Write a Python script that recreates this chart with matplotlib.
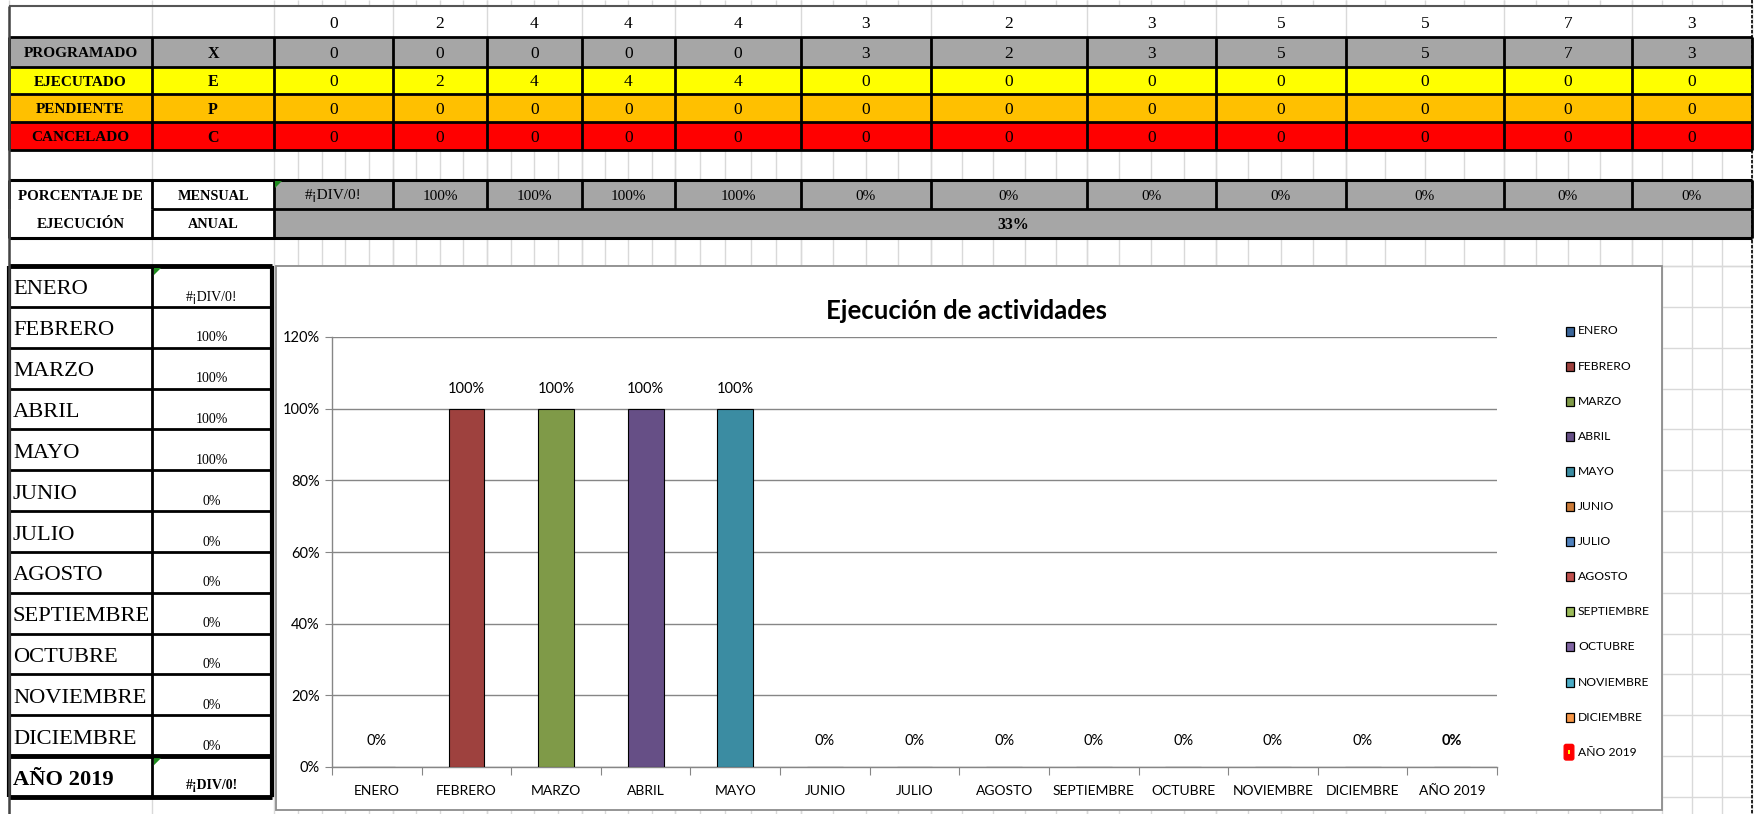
import numpy as np
import matplotlib
matplotlib.use('Agg')
import matplotlib.pyplot as plt
from matplotlib.patches import Rectangle, Polygon, FancyBboxPatch
from matplotlib import font_manager as fm

# ---------------- data ----------------
month_names = ['ENERO', 'FEBRERO', 'MARZO', 'ABRIL', 'MAYO', 'JUNIO', 'JULIO',
               'AGOSTO', 'SEPTIEMBRE', 'OCTUBRE', 'NOVIEMBRE', 'DICIEMBRE']
header_counts = [0, 2, 4, 4, 4, 3, 2, 3, 5, 5, 7, 3]
status_names = ['PROGRAMADO', 'EJECUTADO', 'PENDIENTE', 'CANCELADO']
status_codes = ['X', 'E', 'P', 'C']
programado = [0, 0, 0, 0, 0, 3, 2, 3, 5, 5, 7, 3]
ejecutado = [0, 2, 4, 4, 4, 0, 0, 0, 0, 0, 0, 0]
pendiente = [0, 0, 0, 0, 0, 0, 0, 0, 0, 0, 0, 0]
cancelado = [0, 0, 0, 0, 0, 0, 0, 0, 0, 0, 0, 0]
mensual_text = ['#¡DIV/0!', '100%', '100%', '100%', '100%', '0%', '0%', '0%',
                '0%', '0%', '0%', '0%']
anual_text = '33%'
summary_names = month_names + ['AÑO 2019']
summary_text = ['#¡DIV/0!', '100%', '100%', '100%', '100%', '0%', '0%', '0%',
                '0%', '0%', '0%', '0%', '#¡DIV/0!']
chart_title = 'Ejecución de actividades'
chart_categories = month_names + ['AÑO 2019']
chart_values = [0, 100, 100, 100, 100, 0, 0, 0, 0, 0, 0, 0, 0]
chart_value_labels = ['0%', '100%', '100%', '100%', '100%', '0%', '0%', '0%',
                      '0%', '0%', '0%', '0%', '0%']
y_ticks = [0, 20, 40, 60, 80, 100, 120]

# ---------------- style ----------------
status_colors = ['#A6A6A6', '#FFFF00', '#FFC000', '#FF0000']
series_colors = ['#3A6599', '#9E413E', '#7F9A48', '#664F86', '#3B8CA2', '#CC7B38',
                 '#4F81BD', '#C0504D', '#9BBB59', '#8064A2', '#4BACC6', '#F79646',
                 '#FF0000']

avail = {f.name for f in fm.fontManager.ttflist}
if 'Lato' in avail:
    SANS, SK = 'Lato', 1.0
else:
    SANS, SK = 'Liberation Sans', 0.9
SERIF = 'Liberation Serif'

W, H, DPI = 1755, 814, 100
fig = plt.figure(figsize=(W / DPI, H / DPI), dpi=DPI)
bg = fig.add_axes([0, 0, 1, 1], zorder=0)
bg.set_xlim(0, W)
bg.set_ylim(H, 0)
bg.axis('off')

GRID = '#D9D9D9'
col_edges = [9, 152, 274, 393, 487, 582, 675, 801, 931, 1087, 1216, 1346, 1504, 1632, 1752]
n_sub = [5, 4, 4, 4, 5, 4, 5, 4, 4, 4, 4, 4]
top_rows = [6, 37, 67, 94, 122, 150, 180, 209, 238, 266]
bt_top, bt_bot = 266, 797
bt_h = (bt_bot - bt_top) / 13.0
bottom_rows = [bt_top + bt_h * i for i in range(14)] + [bt_bot + bt_h]

# light spreadsheet grid
sub_x = []
for i in range(12):
    a, b = col_edges[2 + i], col_edges[3 + i]
    sub_x += list(np.linspace(a, b, n_sub[i] + 1))
for x in sub_x + col_edges[:2]:
    bg.vlines(x, 0, H, color=GRID, lw=1.0, zorder=0.5)
for y in top_rows + bottom_rows:
    bg.hlines(y, 9, 1752, color=GRID, lw=1.0, zorder=0.5)

# header row: white with only main column lines
bg.add_patch(Rectangle((9, 6), 1752 - 9, 31, fc='white', ec='none', zorder=0.7))
for x in col_edges:
    bg.vlines(x, 6, 37, color=GRID, lw=1.0, zorder=0.8)


def cell(x0, x1, y0, y1, fc):
    bg.add_patch(Rectangle((x0, y0), x1 - x0, y1 - y0, fc=fc, ec='none', zorder=1))


def txt(x, y, s, size, bold=False, family=SERIF, ha='center', va='center', **kw):
    bg.text(x, y, s, fontsize=size, fontweight='bold' if bold else 'normal',
            family=family, ha=ha, va=va, zorder=5, **kw)


def centers(i):
    return (col_edges[2 + i] + col_edges[3 + i]) / 2.0


# header counts
for i, v in enumerate(header_counts):
    txt(centers(i), 24, str(v), 12.5)

# status rows
status_values = [programado, ejecutado, pendiente, cancelado]
for r, (name, code, vals, fc) in enumerate(zip(status_names, status_codes,
                                                 status_values, status_colors)):
    y0, y1 = top_rows[1 + r], top_rows[2 + r]
    cell(9, 1752, y0, y1, fc)
    yc = (y0 + y1) / 2 + 1.5
    txt((col_edges[0] + col_edges[1]) / 2, yc, name, 11, bold=True)
    txt((col_edges[1] + col_edges[2]) / 2, yc, code, 11.5, bold=True)
    for i, v in enumerate(vals):
        txt(centers(i), yc, str(v), 12.5)
for y in top_rows[1:6]:
    bg.hlines(y, 9, 1752, color='black', lw=2.0, zorder=3)
for x in col_edges:
    bg.vlines(x, 37, 150, color='black', lw=2.0, zorder=3)

# percentage rows
cell(9, 274, 180, 238, 'white')
for i, s in enumerate(mensual_text):
    cell(col_edges[2 + i], col_edges[3 + i], 180, 209, '#A6A6A6')
    txt(centers(i), 196, s, 11)
cell(274, 1752, 209, 238, '#A6A6A6')
txt((274 + 1752) / 2, 225, anual_text, 11.5, bold=True)
txt((col_edges[0] + col_edges[1]) / 2, 196, 'PORCENTAJE DE', 10.8, bold=True)
txt((col_edges[0] + col_edges[1]) / 2, 224, 'EJECUCIÓN', 10.8, bold=True)
txt((col_edges[1] + col_edges[2]) / 2, 196, 'MENSUAL', 10.3, bold=True)
txt((col_edges[1] + col_edges[2]) / 2, 225, 'ANUAL', 10.3, bold=True)
bg.hlines([180, 238], 9, 1752, color='black', lw=2.2, zorder=3)
bg.hlines(209, 152, 1752, color='black', lw=2.0, zorder=3)
for x in col_edges:
    bg.vlines(x, 180, 209, color='black', lw=2.0, zorder=3)
for x in [9, 152, 274, 1752]:
    bg.vlines(x, 209, 238, color='black', lw=2.0, zorder=3)
bg.add_patch(Polygon([[275, 181], [282, 181], [275, 188]], closed=True,
                     fc='#1E8C1E', ec='none', zorder=4))

# bottom summary table
cell(9, 272, bt_top, bt_bot, 'white')
for k, (name, s) in enumerate(zip(summary_names, summary_text)):
    y0 = bt_top + bt_h * k
    last = k == len(summary_names) - 1
    txt(13, y0 + 24, name, 16.2, bold=last, ha='left')
    txt(212, y0 + (29 if last else 31), s, 10, bold=last)
for k in range(14):
    y = bt_top + bt_h * k
    lw = 3.5 if k in (0, 12, 13) else 2.0
    bg.hlines(y, 9, 272, color='black', lw=lw, zorder=3)
bg.vlines([9, 272], bt_top, bt_bot, color='black', lw=3.0, zorder=3)
bg.vlines(152, bt_top, bt_bot, color='black', lw=2.0, zorder=3)
for y in (bt_top, bt_top + bt_h * 12):
    bg.add_patch(Polygon([[154, y + 2], [161, y + 2], [154, y + 9]], closed=True,
                         fc='#1E8C1E', ec='none', zorder=4))

# sheet edges
bg.hlines(6, 9, 1752, color='#555555', lw=1.5, zorder=3)
bg.vlines(9, 6, H, color='#444444', lw=1.8, zorder=3)
bg.vlines(1752, 0, H, color='black', lw=1.2, linestyles=(0, (2, 1)), zorder=3)

# chart box
bg.add_patch(Rectangle((276, 266), 1662 - 276, 810 - 266, fc='white',
                       ec='#8C8C8C', lw=1.3, zorder=2))
bg.text(967, 311, chart_title, fontsize=18.5 * SK, fontweight='bold', family=SANS,
        ha='center', va='center', zorder=5)

# legend (manual, Excel style)
for k, (name, col) in enumerate(zip(chart_categories, series_colors)):
    yc = 331 + 35.1 * k
    if k == len(chart_categories) - 1:
        bg.add_patch(FancyBboxPatch((1565, yc - 7), 8, 14,
                                    boxstyle='round,pad=0.8,rounding_size=2',
                                    fc='#FF0000', ec='#FF0000', zorder=4))
        bg.add_patch(Rectangle((1568, yc - 2), 2.5, 4, fc='#FFFF00', ec='none', zorder=5))
    else:
        bg.add_patch(Rectangle((1566, yc - 4.5), 8, 9, fc=col, ec='black', lw=0.9, zorder=4))
    bg.text(1578, yc, name, fontsize=8.7 * SK, family=SANS, ha='left', va='center', zorder=5)

# ---------------- bar chart ----------------
ax = fig.add_axes([332 / W, (H - 767) / H, (1497 - 332) / W, (767 - 337) / H], zorder=3)
ax.patch.set_alpha(0)
xpos = np.arange(len(chart_categories))
ax.bar(xpos, chart_values, width=0.4, color=series_colors, edgecolor='black',
       linewidth=0.8, zorder=3)
ax.set_xlim(-0.5, len(chart_categories) - 0.5)
ax.set_ylim(0, 120)
ax.set_yticks(y_ticks)
ax.set_yticklabels([f'{v}%' for v in y_ticks], family=SANS, fontsize=10.5 * SK)
ax.yaxis.grid(True, color='#868686', lw=1.0)
ax.set_axisbelow(True)
ax.set_xticks(np.arange(-0.5, len(chart_categories), 1.0))
ax.set_xticklabels([])
ax.set_xticks(xpos, minor=True)
ax.set_xticklabels(chart_categories, minor=True, family=SANS, fontsize=10 * SK)
ax.tick_params(axis='x', which='minor', length=0, pad=13)
ax.tick_params(axis='x', which='major', length=6, color='#868686', direction='out')
ax.tick_params(axis='y', length=5, color='#868686', pad=4)
for s in ('top', 'right'):
    ax.spines[s].set_visible(False)
for s in ('left', 'bottom'):
    ax.spines[s].set_color('#868686')
    ax.spines[s].set_linewidth(1.0)

for k, (v, lab) in enumerate(zip(chart_values, chart_value_labels)):
    off = 14.5 if v > 0 else 18.5
    ax.annotate(lab, (xpos[k], v), xytext=(0, off), textcoords='offset points',
                ha='center', va='center', family=SANS, fontsize=10.5 * SK,
                fontweight='bold' if k == len(chart_values) - 1 else 'normal')

fig.savefig('out.png', dpi=DPI)
